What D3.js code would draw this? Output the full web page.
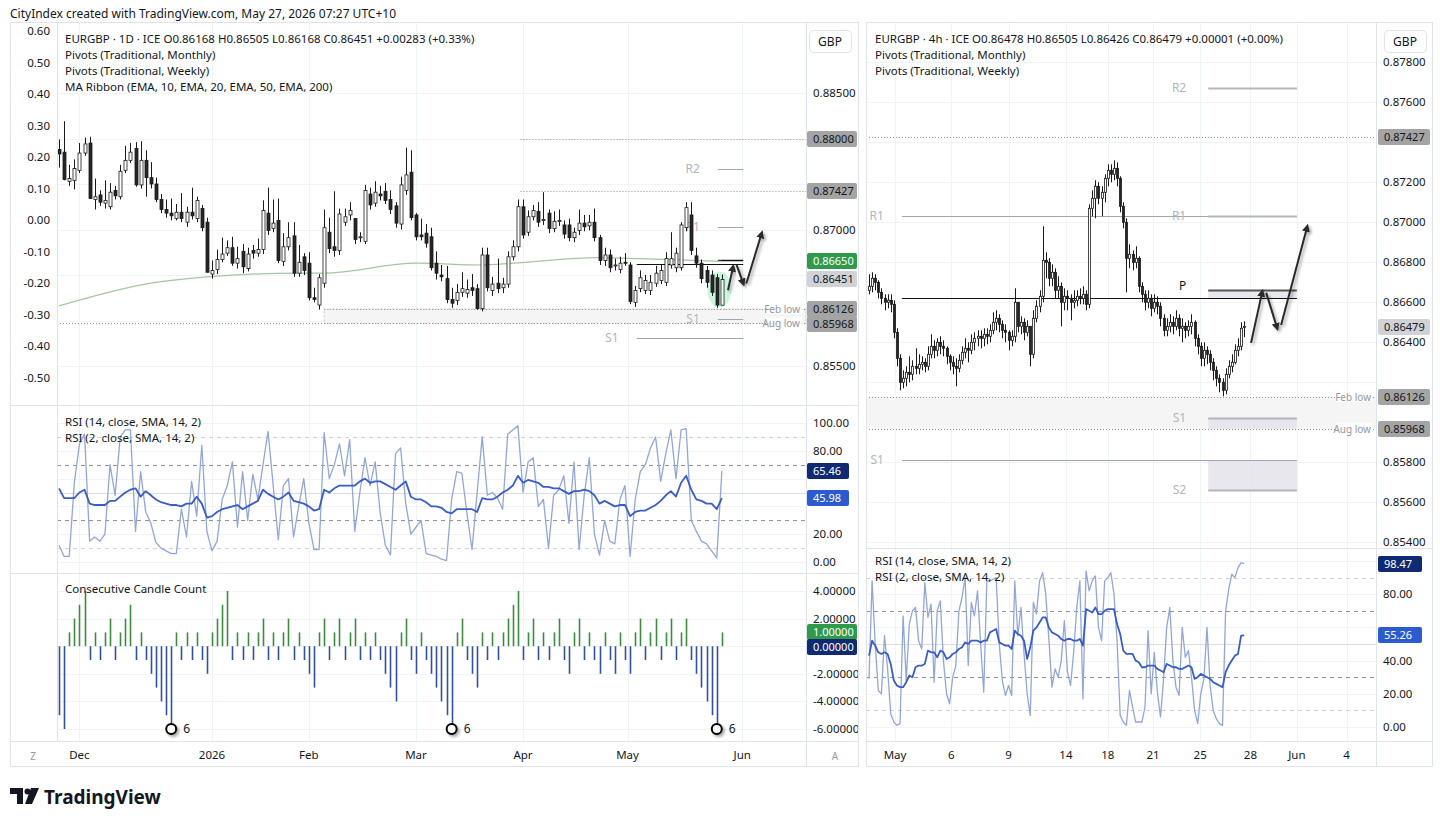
<!DOCTYPE html>
<html>
<head>
<meta charset="utf-8">
<script src="https://cdn.jsdelivr.net/npm/d3@7"></script>
<style>
  body { margin: 0; background: #fff; }
  svg text { font-family: "Noto Sans", "DejaVu Sans", sans-serif; }
</style>
</head>
<body>
<svg id="chart" width="1440" height="824"></svg>
<script>
// ---------- daily EURGBP (left chart) ----------
var dayOpen = [0.8788,0.8785,0.8753,0.8754,0.8765,0.8784,0.8795,0.8733,0.8738,0.8729,0.8725,0.8743,0.8736,0.8765,0.8776,0.8789,0.8749,0.8776,0.8757,0.8750,0.8733,0.8722,0.8718,0.8712,0.8719,0.8708,0.8719,0.8712,0.8723,0.8708,0.8651,0.8656,0.8667,0.8674,0.8680,0.8663,0.8676,0.8657,0.8677,0.8674,0.8678,0.8718,0.8701,0.8710,0.8665,0.8681,0.8693,0.8652,0.8670,0.8663,0.8625,0.8617,0.8641,0.8697,0.8681,0.8677,0.8708,0.8716,0.8712,0.8691,0.8687,0.8739,0.8729,0.8739,0.8742,0.8733,0.8726,0.8706,0.8743,0.8763,0.8716,0.8694,0.8696,0.8692,0.8663,0.8650,0.8646,0.8623,0.8622,0.8631,0.8630,0.8636,0.8635,0.8613,0.8672,0.8633,0.8641,0.8636,0.8640,0.8670,0.8681,0.8725,0.8697,0.8714,0.8720,0.8710,0.8718,0.8701,0.8709,0.8705,0.8705,0.8691,0.8699,0.8707,0.8704,0.8708,0.8691,0.8666,0.8672,0.8660,0.8656,0.8664,0.8661,0.8620,0.8635,0.8633,0.8633,0.8641,0.8644,0.8642,0.8661,0.8658,0.8658,0.8702,0.8716,0.8671,0.8663,0.8655,0.8650,0.8647,0.86168];
var dayHigh = [0.8799,0.8819,0.8771,0.8777,0.8795,0.8801,0.8802,0.8756,0.8743,0.8754,0.8751,0.8748,0.8771,0.8792,0.8795,0.8796,0.8797,0.8787,0.8774,0.8757,0.8739,0.8733,0.8734,0.8728,0.8740,0.8725,0.8746,0.8736,0.8727,0.8713,0.8666,0.8678,0.8691,0.8688,0.8692,0.8681,0.8684,0.8680,0.8683,0.8690,0.8732,0.8746,0.8733,0.8734,0.8696,0.8708,0.8708,0.8683,0.8674,0.8675,0.8636,0.8651,0.8722,0.8713,0.8742,0.8723,0.8723,0.8730,0.8712,0.8697,0.8749,0.8746,0.8753,0.8748,0.8751,0.8743,0.8730,0.8758,0.8790,0.8787,0.8718,0.8712,0.8706,0.8702,0.8676,0.8661,0.8660,0.8636,0.8640,0.8653,0.8645,0.8651,0.8640,0.8680,0.8680,0.8648,0.8668,0.8647,0.8676,0.8688,0.8733,0.8733,0.8721,0.8727,0.8730,0.8741,0.8722,0.8720,0.8722,0.8710,0.8712,0.8702,0.8722,0.8716,0.8716,0.8723,0.8694,0.8680,0.8678,0.8668,0.8670,0.8674,0.8664,0.8638,0.8655,0.8650,0.8650,0.8660,0.8662,0.8675,0.8697,0.8680,0.8708,0.8730,0.8730,0.8680,0.8667,0.8660,0.8655,0.8651,0.86505];
var dayLow = [0.8768,0.8754,0.8748,0.8744,0.8762,0.8781,0.8734,0.8722,0.8726,0.8723,0.8722,0.8733,0.8733,0.8762,0.8773,0.8747,0.8745,0.8736,0.8745,0.8730,0.8718,0.8713,0.8710,0.8710,0.8708,0.8703,0.8711,0.8708,0.8698,0.8653,0.8646,0.8651,0.8664,0.8671,0.8660,0.8657,0.8652,0.8654,0.8668,0.8670,0.8673,0.8694,0.8697,0.8663,0.8660,0.8677,0.8648,0.8648,0.8650,0.8622,0.8620,0.8612,0.8636,0.8674,0.8670,0.8672,0.8704,0.8710,0.8684,0.8686,0.8684,0.8722,0.8725,0.8732,0.8728,0.8717,0.8702,0.8700,0.8738,0.8710,0.8688,0.8688,0.8680,0.8655,0.8645,0.8643,0.8619,0.8614,0.8617,0.8626,0.8625,0.8627,0.8612,0.8610,0.8632,0.8627,0.8630,0.8630,0.8636,0.8666,0.8676,0.8690,0.8693,0.8710,0.8703,0.8705,0.8696,0.8697,0.8704,0.8690,0.8687,0.8686,0.8694,0.8698,0.8699,0.8687,0.8661,0.8660,0.8653,0.8655,0.8652,0.8660,0.8618,0.8615,0.8631,0.8629,0.8628,0.8637,0.8640,0.8638,0.8657,0.8653,0.8655,0.8698,0.8672,0.8658,0.8641,0.8636,0.8627,0.8614,0.86168];
var dayClose = [0.8783,0.8755,0.8756,0.8767,0.8784,0.8794,0.8734,0.8736,0.8730,0.8732,0.8741,0.8737,0.8764,0.8776,0.8785,0.8749,0.8776,0.8757,0.8750,0.8733,0.8722,0.8718,0.8715,0.8719,0.8712,0.8719,0.8715,0.8732,0.8702,0.8653,0.8655,0.8667,0.8673,0.8680,0.8663,0.8668,0.8659,0.8673,0.8674,0.8678,0.8721,0.8699,0.8707,0.8666,0.8681,0.8691,0.8652,0.8664,0.8655,0.8625,0.8623,0.8647,0.8702,0.8679,0.8677,0.8717,0.8714,0.8721,0.8689,0.8692,0.8743,0.8727,0.8741,0.8737,0.8732,0.8722,0.8707,0.8749,0.8760,0.8713,0.8692,0.8692,0.8685,0.8658,0.8652,0.8648,0.8623,0.8619,0.8631,0.8635,0.8634,0.8633,0.8613,0.8672,0.8636,0.8640,0.8635,0.8640,0.8670,0.8681,0.8725,0.8694,0.8714,0.8721,0.8708,0.8711,0.8701,0.8709,0.8710,0.8695,0.8691,0.8697,0.8707,0.8703,0.8708,0.8691,0.8666,0.8672,0.8658,0.8661,0.8663,0.8663,0.8621,0.8633,0.8647,0.8644,0.8642,0.8652,0.8655,0.8668,0.8668,0.8674,0.8705,0.8724,0.8677,0.8663,0.8646,0.8642,0.8631,0.8617,0.86451];

var dayTicks = ["Dec", "2026", "Feb", "Mar", "Apr", "May", "Jun"];
var dayTickBar = [4, 30, 49, 70, 91, 111.5, 134];

var ema200Bar = [0, 18, 29, 47, 52, 70, 83, 89, 106, 114, 130];
var ema200 = [0.8616, 0.8641, 0.8648, 0.8652, 0.8652, 0.8663, 0.8661, 0.8663, 0.8669, 0.8668, 0.8665];

var rsi14Day = [53,46,46,46,50,52,42,41,41,41,44,44,47,50,52,53,47,51,48,45,43,42,41,41,40,42,42,47,42,32,33,36,38,39,40,41,38,40,42,44,52,49,47,45,47,50,44,43,42,40,37,38,52,50,53,55,55,55,55,58,60,57,58,58,56,54,52,55,58,47,45,45,43,40,40,39,36,35,38,38,38,38,36,46,45,45,47,50,52,55,62,57,59,58,57,54,54,53,53,51,49,51,51,52,51,48,42,44,42,40,41,41,33,36,37,37,39,41,44,48,51,47,57,62,52,45,44,42,42,38,45.98];
var rsi2Day = [12,4,4,57,85,92,15,18,15,20,70,48,90,95,95,22,65,36,28,14,10,8,6,6,38,18,58,33,84,22,8,15,45,55,72,25,65,30,63,45,70,94,55,16,55,60,18,40,60,28,9,9,93,60,70,85,62,88,22,50,75,55,72,35,12,5,78,82,42,20,25,30,6,5,4,2,1,45,65,64,35,9,50,90,48,50,46,38,92,95,98,50,72,75,40,45,10,48,52,62,28,72,9,48,75,20,5,30,15,13,45,55,4,45,65,70,82,90,58,78,95,60,95,96,30,22,15,13,8,3,65.46];

var candleCount = [-5,-6,1,2,3,4,-1,1,-1,1,2,-1,1,2,3,-1,1,-1,-2,-3,-4,-5,-6,1,-1,1,-1,1,-1,-2,1,2,3,4,-1,1,-1,1,-1,1,2,-1,1,-1,1,2,-1,1,-1,-2,-3,1,2,-1,1,2,-1,1,2,-1,1,-1,1,-1,-2,-3,-4,1,2,-1,-2,1,-1,-2,-3,-4,-5,-6,1,2,-1,-2,-3,1,-1,1,-1,1,2,3,4,-1,1,2,-1,1,-1,1,2,-1,-2,1,2,-1,1,-1,-2,1,-1,-2,1,-1,-2,1,2,-1,1,2,-1,1,2,-1,1,2,-1,-2,-3,-4,-5,-6,1];
var countMarkBar = [22, 77, 129];

var overlayTicks = [0.6, 0.5, 0.4, 0.3, 0.2, 0.1, 0, -0.1, -0.2, -0.3, -0.4, -0.5];

// ---------- 4h EURGBP (right chart) ----------
var h4FirstOpen = 0.8666;
var h4Close = [0.8668,0.8672,0.8670,0.8665,0.8662,0.8660,0.8661,0.8659,0.8645,0.8632,0.8620,0.8622,0.8625,0.8624,0.8628,0.8627,0.8629,0.8630,0.8628,0.8634,0.8638,0.8636,0.8640,0.8638,0.8637,0.8633,0.8630,0.8628,0.8627,0.8631,0.8635,0.8637,0.8636,0.8640,0.8642,0.8643,0.8642,0.8644,0.8643,0.8646,0.8650,0.8652,0.8649,0.8646,0.8645,0.8641,0.8643,0.8660,0.8648,0.8650,0.8645,0.8648,0.8634,0.8652,0.8658,0.8663,0.8681,0.8680,0.8672,0.8675,0.8666,0.8668,0.8660,0.8663,0.8662,0.8660,0.8661,0.8663,0.8662,0.8664,0.8659,0.8707,0.8712,0.8718,0.8712,0.8715,0.8722,0.8726,0.8724,0.8727,0.8722,0.8708,0.8700,0.8682,0.8684,0.8680,0.8682,0.8668,0.8664,0.8660,0.8662,0.8657,0.8660,0.8658,0.8652,0.8646,0.8648,0.8650,0.8648,0.8652,0.8647,0.8648,0.8646,0.8648,0.8650,0.8642,0.8638,0.8632,0.8636,0.8634,0.8630,0.8626,0.8622,0.8620,0.8616,0.8624,0.8628,0.8630,0.8636,0.8638,0.8647,0.86479];
var h4High = [0.8674,0.8675,0.8674,0.8671,0.8667,0.8664,0.8664,0.8664,0.8661,0.8647,0.8634,0.8626,0.8628,0.8633,0.8631,0.8637,0.8634,0.8633,0.8632,0.8638,0.8644,0.8641,0.8642,0.8643,0.8641,0.8638,0.8634,0.8633,0.8632,0.8634,0.8638,0.8642,0.8640,0.8644,0.8645,0.8646,0.8646,0.8647,0.8647,0.8649,0.8655,0.8656,0.8654,0.8651,0.8649,0.8646,0.8646,0.8667,0.8660,0.8653,0.8652,0.8651,0.8648,0.8656,0.8661,0.8666,0.8698,0.8685,0.8682,0.8679,0.8677,0.8673,0.8670,0.8667,0.8666,0.8664,0.8666,0.8666,0.8667,0.8668,0.8666,0.8709,0.8716,0.8721,0.8720,0.8718,0.8724,0.8729,0.8729,0.8731,0.8730,0.8723,0.8710,0.8702,0.8689,0.8686,0.8688,0.8683,0.8670,0.8666,0.8666,0.8664,0.8664,0.8663,0.8660,0.8654,0.8652,0.8654,0.8653,0.8656,0.8654,0.8652,0.8650,0.8651,0.8654,0.8651,0.8644,0.8640,0.8640,0.8638,0.8636,0.8632,0.8628,0.8624,0.8622,0.8627,0.8631,0.8634,0.8639,0.8642,0.8650,0.86505];
var h4Low = [0.8664,0.8665,0.8666,0.8662,0.8659,0.8656,0.8657,0.8655,0.8642,0.8628,0.8616,0.8617,0.8618,0.8620,0.8621,0.8624,0.8624,0.8626,0.8625,0.8626,0.8632,0.8632,0.8633,0.8634,0.8633,0.8629,0.8626,0.8624,0.8618,0.8625,0.8629,0.8632,0.8630,0.8634,0.8636,0.8638,0.8637,0.8638,0.8639,0.8640,0.8644,0.8646,0.8645,0.8642,0.8640,0.8636,0.8638,0.8640,0.8645,0.8644,0.8641,0.8643,0.8628,0.8632,0.8650,0.8655,0.8660,0.8672,0.8668,0.8668,0.8662,0.8662,0.8648,0.8656,0.8656,0.8651,0.8657,0.8658,0.8659,0.8659,0.8656,0.8657,0.8703,0.8702,0.8709,0.8703,0.8710,0.8718,0.8720,0.8721,0.8718,0.8705,0.8697,0.8665,0.8677,0.8676,0.8677,0.8665,0.8660,0.8656,0.8657,0.8653,0.8655,0.8654,0.8648,0.8643,0.8643,0.8645,0.8644,0.8646,0.8643,0.8640,0.8642,0.8643,0.8644,0.8638,0.8634,0.8628,0.8628,0.8629,0.8626,0.8621,0.8618,0.8615,0.8613,0.8614,0.8622,0.8625,0.8629,0.8633,0.8636,0.86426];

var h4Ticks = ["May", "6", "9", "14", "18", "21", "25", "28", "Jun", "4"];
var h4TickBar = [8.4, 26.5, 45, 63.5, 77, 91.6, 106.8, 123, 138, 154];

var rsi14H4 = [43,52,49,45,44,45,44,38,28,25,24,24,27,31,30,36,37,37,38,46,45,45,42,46,45,41,42,44,45,47,48,51,50,52,52,52,51,52,52,57,58,59,51,50,49,49,47,58,56,55,52,41,48,58,60,63,66,66,60,57,56,55,53,52,53,53,52,52,53,49,71,70,69,72,68,68,70,71,71,71,62,56,46,44,44,44,40,39,36,36,37,37,37,35,34,33,38,37,36,36,35,35,36,37,36,29,30,32,31,30,29,27,26,25,24,33,37,40,43,44,55,55.26];
var rsi2H4 = [29,88,50,22,20,55,35,8,3,1,2,67,28,62,70,72,52,47,87,66,74,27,70,76,40,20,14,30,37,70,78,90,37,75,67,82,50,21,88,88,89,90,50,28,19,25,19,88,55,72,44,20,7,75,68,88,93,80,53,24,35,30,40,64,33,25,45,72,88,17,94,82,88,91,60,52,88,90,93,80,52,7,3,1,22,12,3,3,3,12,58,20,45,21,6,29,60,72,40,24,19,60,42,46,30,10,2,20,29,60,25,10,5,2,1,70,83,92,90,96,99,98.47];

// ---------- levels ----------
var pivotNameM = ["R1", "P", "S1"];
var pivotM = [0.8703, 0.8662, 0.8581];
var pivotNameW = ["R2", "R1", "P", "S1", "S2"];
var pivotW = [0.8767, 0.8703, 0.8666, 0.8602, 0.8566];
var febLow = 0.86126, augLow = 0.85968;
var roundLevels = [0.88, 0.87427];

// ---------- page ----------
var svg = d3.select("#chart");
var ink = "#131722", gridCol = "#f0f3fa", border = "#e0e3eb", pivGray = "#a3a6af";
var tagGray = "#a4a4a4", tagLight = "#d1d2d6", tagGreen = "#2f9a4c", tagNavy = "#0f2a72", tagBlue = "#2c5bd0";
var upCol = "#3d8b40", dnCol = "#32509e";

var defs = svg.append("defs");
var sh = defs.append("filter").attr("id", "shadow").attr("x", "-50%").attr("y", "-50%").attr("width", "200%").attr("height", "200%");
sh.append("feDropShadow").attr("dx", 2).attr("dy", 2).attr("stdDeviation", 1.5).attr("flood-color", "#000").attr("flood-opacity", 0.35);
defs.append("marker").attr("id", "head").attr("viewBox", "0 0 10 10").attr("refX", 6).attr("refY", 5)
  .attr("markerWidth", 4).attr("markerHeight", 4).attr("orient", "auto-start-reverse")
  .append("path").attr("d", "M0,0L10,5L0,10z").attr("fill", "#2a2a2a");

function clip(id, x, y, w, h) {
  defs.append("clipPath").attr("id", id).append("rect").attr("x", x).attr("y", y).attr("width", w).attr("height", h);
  return "url(#" + id + ")";
}
function crisp(v) { return Math.round(v) + 0.5; }
function hline(g, x1, x2, y, stroke, w, dash) {
  return g.append("line").attr("x1", x1).attr("x2", x2).attr("y1", crisp(y)).attr("y2", crisp(y))
    .attr("stroke", stroke).attr("stroke-width", w || 1).attr("stroke-dasharray", dash || null);
}
function vline(g, x, y1, y2, stroke, w) {
  return g.append("line").attr("x1", crisp(x)).attr("x2", crisp(x)).attr("y1", y1).attr("y2", y2)
    .attr("stroke", stroke).attr("stroke-width", w || 1);
}
function label(g, x, y, s, o) {
  o = o || {};
  return g.append("text").attr("x", x).attr("y", y).text(s)
    .attr("font-size", o.size || 11.5).attr("fill", o.fill || ink)
    .attr("text-anchor", o.anchor || "start").attr("font-weight", o.weight || null);
}
// price tags on a scale; pushed apart so neighbouring tags do not cover each other
function tags(g, x, w, list, y) {
  var items = list.map(function (t) { return { y: y(t[0]), s: t[3] || t[0].toFixed(5), fill: t[1], color: t[2] }; })
    .sort(function (a, b) { return a.y - b.y; });
  for (var k = 1; k < items.length; k++) {
    if (items[k].y - items[k - 1].y < 15) items[k].y = items[k - 1].y + 15;
  }
  items.forEach(function (t) {
    g.append("rect").attr("x", x).attr("y", Math.round(t.y) - 8).attr("width", w).attr("height", 16).attr("rx", 2).attr("fill", t.fill);
    label(g, x + 6, Math.round(t.y) + 4, t.s, { fill: t.color, size: 11 });
  });
}
function candles(g, x, y, O, H, L, C, bw) {
  var idx = d3.range(C.length);
  g.selectAll(null).data(idx).join("line")
    .attr("x1", function (i) { return crisp(x(i)); }).attr("x2", function (i) { return crisp(x(i)); })
    .attr("y1", function (i) { return y(Math.max(H[i], O[i], C[i])); })
    .attr("y2", function (i) { return y(Math.min(L[i], O[i], C[i])); })
    .attr("stroke", "#1a1a1a").attr("stroke-width", 1);
  g.selectAll(null).data(idx).join("rect")
    .attr("x", function (i) { return Math.round(x(i)) + 0.5 - bw / 2; }).attr("width", bw)
    .attr("y", function (i) { return y(Math.max(O[i], C[i])); })
    .attr("height", function (i) { return Math.max(1, Math.abs(y(O[i]) - y(C[i]))); })
    .attr("fill", function (i) { return C[i] >= O[i] ? "#ffffff" : "#262626"; })
    .attr("stroke", "#1a1a1a").attr("stroke-width", 0.8);
}
function series(g, x, y, vals, color, w) {
  g.append("path").datum(vals)
    .attr("d", d3.line().x(function (d, i) { return x(i); }).y(function (d) { return y(d); }))
    .attr("fill", "none").attr("stroke", color).attr("stroke-width", w).attr("stroke-linejoin", "round");
}
function rsiGuides(g, x1, x2, y) {
  hline(g, x1, x2, y(90), "#cfd1d6", 1, "4,4");
  hline(g, x1, x2, y(70), "#8f929b", 1, "4,4");
  hline(g, x1, x2, y(50), "#dcdde1", 1);
  hline(g, x1, x2, y(30), "#8f929b", 1, "4,4");
  hline(g, x1, x2, y(10), "#cfd1d6", 1, "4,4");
}
function arrows(g, x, y, segs) {
  segs.forEach(function (s) {
    g.append("line").attr("x1", x(s[0])).attr("y1", y(s[1])).attr("x2", x(s[2])).attr("y2", y(s[3]))
      .attr("stroke", "#2a2a2a").attr("stroke-width", 2).attr("marker-end", "url(#head)")
      .attr("filter", "url(#shadow)");
  });
}
function priceFmt(v) { return v.toFixed(5); }

svg.append("rect").attr("width", 1440).attr("height", 824).attr("fill", "#fff");
label(svg, 10, 18, "CityIndex created with TradingView.com, May 27, 2026 07:27 UTC+10", { size: 12 });

// =============== LEFT CHART (1D) ===============
var gl = svg.append("g");
var LX0 = 10, LX1 = 858, LPL = 57, LPR = 806;
var xL = d3.scaleLinear().domain([-0.4, 146.5]).range([LPL, LPR]);
var yL = d3.scaleLinear().domain([0.855, 0.885]).range([366, 93]);
var yLo = d3.scaleLinear().domain([-0.5, 0.6]).range([377.5, 31]);
var yLr = d3.scaleLinear().domain([0, 100]).range([562, 423]);
var yLc = d3.scaleLinear().domain([-6, 4]).range([729, 591]);
var priceTicksL = d3.range(7).map(function (k) { return 0.855 + k * 0.005; });

// grid
dayTickBar.forEach(function (b) { vline(gl, xL(b), 22, 741, gridCol); });
priceTicksL.forEach(function (p) { hline(gl, LPL, LPR, yL(p), gridCol); });
[0, 20, 40, 60, 80, 100].forEach(function (v) { hline(gl, LPL, LPR, yLr(v), gridCol); });
[4, 2, 0, -2, -4, -6].forEach(function (v) { hline(gl, LPL, LPR, yLc(v), gridCol); });

var mainL = gl.append("g").attr("clip-path", clip("clipLmain", LPL, 22, LPR - LPL, 383));
// Feb/Aug low zone
mainL.append("rect").attr("x", xL(52)).attr("y", yL(febLow)).attr("width", LPR - xL(52))
  .attr("height", yL(augLow) - yL(febLow)).attr("fill", "#f5f5f6").attr("stroke", "#b9bbc1")
  .attr("stroke-width", 0.8).attr("stroke-dasharray", "2,2");
hline(mainL, xL(52), LPR, yL(febLow), "#8f929b", 1, "1,2");
hline(mainL, LPL, LPR, yL(augLow), "#8f929b", 1, "1,2");
roundLevels.forEach(function (p) { hline(mainL, xL(90.5), LPR, yL(p), "#8f929b", 1, "1,2"); });

// pivots
var mStartL = 113.3, wStartL = 129.2, pEndL = 134.2;
[1, 2].forEach(function (k) {
  hline(mainL, xL(mStartL), xL(pEndL), yL(pivotM[k]), pivotNameM[k] === "P" ? "#111" : pivGray, 1);
});
label(mainL, xL(mStartL) - 18, yL(pivotM[2]) + 4, "S1", { fill: "#b2b5be", anchor: "end", size: 12 });
[0, 1, 2, 3].forEach(function (k) {
  hline(mainL, xL(wStartL), xL(pEndL), yL(pivotW[k]), pivotNameW[k] === "P" ? "#111" : pivGray, pivotNameW[k] === "P" ? 1.5 : 1);
  if (pivotNameW[k] !== "P") label(mainL, xL(wStartL) - 18, yL(pivotW[k]) + 4, pivotNameW[k], { fill: "#b2b5be", anchor: "end", size: 12 });
});

// EMA 200 (MA ribbon)
mainL.append("path").datum(ema200Bar.map(function (b, k) { return [b, ema200[k]]; }))
  .attr("d", d3.line().x(function (d) { return xL(d[0]); }).y(function (d) { return yL(d[1]); }).curve(d3.curveMonotoneX))
  .attr("fill", "none").attr("stroke", "#a9c3a4").attr("stroke-width", 1.2);

// highlight of last two candles
mainL.append("ellipse").attr("cx", xL(129.5)).attr("cy", yL(0.8634)).attr("rx", 12).attr("ry", 18)
  .attr("fill", "#9ef0be").attr("opacity", 0.55);
candles(mainL, xL, yL, dayOpen, dayHigh, dayLow, dayClose, 3);
arrows(mainL, xL, yL, [[131.2, 0.86333, 132.2, 0.86589], [132.9, 0.86608, 134.2, 0.86407], [134.8, 0.86407, 137.8, 0.86957]]);

// left overlay scale
overlayTicks.forEach(function (v) { label(gl, 50, yLo(v) + 4, v.toFixed(2), { anchor: "end" }); });

// legend
label(gl, 65, 43, "EURGBP · 1D · ICE  O0.86168  H0.86505  L0.86168  C0.86451  +0.00283 (+0.33%)");
label(gl, 65, 59, "Pivots (Traditional, Monthly)");
label(gl, 65, 75, "Pivots (Traditional, Weekly)");
label(gl, 65, 91, "MA Ribbon (EMA, 10, EMA, 20, EMA, 50, EMA, 200)");

// RSI pane
var rsiL = gl.append("g").attr("clip-path", clip("clipLrsi", LPL, 406, LPR - LPL, 166));
rsiGuides(rsiL, LPL, LPR, yLr);
series(rsiL, xL, yLr, rsi2Day, "#93a6d6", 1.3);
series(rsiL, xL, yLr, rsi14Day, "#3b5cc4", 1.8);
label(gl, 65, 426, "RSI (14, close, SMA, 14, 2)");
label(gl, 65, 442, "RSI (2, close, SMA, 14, 2)");

// consecutive candle count pane
var cntL = gl.append("g");
cntL.selectAll(null).data(candleCount).join("line")
  .attr("x1", function (d, i) { return crisp(xL(i)); }).attr("x2", function (d, i) { return crisp(xL(i)); })
  .attr("y1", yLc(0)).attr("y2", function (d) { return yLc(d); })
  .attr("stroke", function (d) { return d > 0 ? upCol : dnCol; }).attr("stroke-width", 1.6);
countMarkBar.forEach(function (b) {
  cntL.append("circle").attr("cx", xL(b)).attr("cy", yLc(candleCount[b])).attr("r", 5)
    .attr("fill", "#fff").attr("stroke", "#000").attr("stroke-width", 2).attr("filter", "url(#shadow)");
  label(cntL, xL(b) + 12, yLc(candleCount[b]) + 4, String(Math.abs(candleCount[b])), { size: 12 });
});
label(gl, 65, 593, "Consecutive Candle Count");

// right price scale
var tagsL = [[0.88, tagGray, ink], [0.87427, tagGray, ink], [ema200[ema200.length - 1], tagGreen, "#fff"],
  [dayClose[dayClose.length - 1], tagLight, ink], [febLow, tagGray, ink], [augLow, tagGray, ink]];
priceTicksL.forEach(function (p) {
  var hidden = tagsL.some(function (t) { return Math.abs(yL(t[0]) - yL(p)) < 15; });
  if (!hidden) label(gl, 813, yL(p) + 4, priceFmt(p));
});
tags(gl, 807, 50, tagsL, yL);
[[febLow, "Feb low"], [augLow, "Aug low"]].forEach(function (t) {
  gl.append("rect").attr("x", 766).attr("y", yL(t[0]) - 6).attr("width", 36).attr("height", 11).attr("fill", "#fff").attr("opacity", 0.85);
  label(gl, 800, yL(t[0]) + 4, t[1], { anchor: "end", fill: "#9598a1", size: 10 });
});
// RSI and count scales
[100, 80, 20, 0].forEach(function (v) { label(gl, 813, yLr(v) + 4, v.toFixed(2)); });
tags(gl, 807, 42, [[rsi2Day[rsi2Day.length - 1], tagNavy, "#fff", rsi2Day[rsi2Day.length - 1].toFixed(2)],
  [rsi14Day[rsi14Day.length - 1], tagBlue, "#fff", rsi14Day[rsi14Day.length - 1].toFixed(2)]], yLr);
[4, 2, -2, -4, -6].forEach(function (v) { label(gl, 813, yLc(v) + 4, v.toFixed(5)); });
tags(gl, 807, 50, [[candleCount[candleCount.length - 1], tagGreen, "#fff", candleCount[candleCount.length - 1].toFixed(5)],
  [0, tagNavy, "#fff", (0).toFixed(5)]], yLc);

// time axis
dayTicks.forEach(function (s, k) { label(gl, xL(dayTickBar[k]), 759, s, { anchor: "middle" }); });
label(gl, 33, 760, "Z", { anchor: "middle", fill: "#9598a1", size: 10 });
label(gl, 835, 760, "A", { anchor: "middle", fill: "#9598a1", size: 10 });

// GBP box
gl.append("rect").attr("x", 809.5).attr("y", 30.5).attr("width", 42).attr("height", 22).attr("rx", 4).attr("fill", "#fff").attr("stroke", border);
label(gl, 830, 46, "GBP", { anchor: "middle", size: 12 });

// frame
gl.append("rect").attr("x", LX0 + 0.5).attr("y", 22.5).attr("width", LX1 - LX0).attr("height", 744).attr("fill", "none").attr("stroke", border);
vline(gl, LPL, 22, 741, border);
vline(gl, LPR, 22, 766, border);
hline(gl, LX0, LX1, 405, border);
hline(gl, LX0, LX1, 573, border);
hline(gl, LX0, LX1, 741, border);

// =============== RIGHT CHART (4h) ===============
var gr = svg.append("g");
var RX0 = 866, RX1 = 1432, RPL = 866, RPR = 1376;
var xR = d3.scaleLinear().domain([-0.97, 163.5]).range([RPL, RPR]);
var yR = d3.scaleLinear().domain([0.856, 0.878]).range([502.3, 62.3]);
var yRr = d3.scaleLinear().domain([0, 100]).range([727, 561]);
var priceTicksR = d3.range(13).map(function (k) { return 0.854 + k * 0.002; });
var h4Open = h4Close.map(function (c, i) { return i === 0 ? h4FirstOpen : h4Close[i - 1]; });
h4Open[h4Open.length - 1] = 0.86478;

h4TickBar.forEach(function (b) { vline(gr, xR(b), 22, 741, gridCol); });
priceTicksR.forEach(function (p) { hline(gr, RPL, RPR, yR(p), gridCol); });
[0, 20, 40, 60, 80, 100].forEach(function (v) { hline(gr, RPL, RPR, yRr(v), gridCol); });

var mainR = gr.append("g").attr("clip-path", clip("clipRmain", RPL, 22, RPR - RPL, 526));
mainR.append("rect").attr("x", RPL).attr("y", yR(febLow)).attr("width", RPR - RPL)
  .attr("height", yR(augLow) - yR(febLow)).attr("fill", "#f5f5f6");
hline(mainR, RPL, RPR, yR(febLow), "#8f929b", 1, "1,2");
hline(mainR, RPL, RPR, yR(augLow), "#8f929b", 1, "1,2");
hline(mainR, RPL, RPR, yR(roundLevels[1]), "#8f929b", 1, "1,2");

var mStartR = 10.6, wStartR = 109.4, pEndR = 138;
// weekly zones
var zoneTop = [pivotW[2], pivotW[3], pivotM[2]];
var zoneBot = [pivotM[1], augLow, pivotW[4]];
zoneTop.forEach(function (t, k) {
  mainR.append("rect").attr("x", xR(wStartR)).attr("y", yR(t)).attr("width", xR(pEndR) - xR(wStartR))
    .attr("height", yR(zoneBot[k]) - yR(t)).attr("fill", "#e3e3ea").attr("opacity", 0.85);
});
pivotM.forEach(function (v, k) {
  hline(mainR, xR(mStartR), xR(pEndR), yR(v), pivotNameM[k] === "P" ? "#111" : pivGray, 1);
  if (pivotNameM[k] !== "P") label(mainR, xR(mStartR) - 18, yR(v) + 4, pivotNameM[k], { fill: "#b2b5be", anchor: "end", size: 12 });
});
pivotW.forEach(function (v, k) {
  var isP = pivotNameW[k] === "P";
  hline(mainR, xR(wStartR), xR(pEndR), yR(v), isP ? "#555" : "#b4b6bc", 2);
  label(mainR, xR(wStartR) - 22, yR(v) + (isP ? 0 : 4), pivotNameW[k], { fill: isP ? ink : "#b2b5be", anchor: "end", size: 12 });
});
candles(mainR, xR, yR, h4Open, h4High, h4Low, h4Close, 2);
arrows(mainR, xR, yR, [[123.2, 0.86397, 126.8, 0.86652], [128.1, 0.86647, 131.6, 0.86472], [132.9, 0.86487, 141.3, 0.86977]]);

label(gr, 875, 43, "EURGBP · 4h · ICE  O0.86478  H0.86505  L0.86426  C0.86479  +0.00001 (+0.00%)");
label(gr, 875, 59, "Pivots (Traditional, Monthly)");
label(gr, 875, 75, "Pivots (Traditional, Weekly)");

var rsiR = gr.append("g").attr("clip-path", clip("clipRrsi", RPL, 549, RPR - RPL, 191));
rsiGuides(rsiR, RPL, RPR, yRr);
series(rsiR, xR, yRr, rsi2H4, "#93a6d6", 1.3);
series(rsiR, xR, yRr, rsi14H4, "#3b5cc4", 1.8);
label(gr, 875, 565, "RSI (14, close, SMA, 14, 2)");
label(gr, 875, 581, "RSI (2, close, SMA, 14, 2)");

var tagsR = [[roundLevels[1], tagGray, ink], [h4Close[h4Close.length - 1], tagLight, ink], [febLow, tagGray, ink], [augLow, tagGray, ink]];
priceTicksR.forEach(function (p) {
  var y = yR(p);
  if (y < 30 || y > 545) return;
  var hidden = tagsR.some(function (t) { return Math.abs(yR(t[0]) - y) < 15; });
  if (!hidden) label(gr, 1383, y + 4, priceFmt(p));
});
tags(gr, 1378, 52, tagsR, yR);
[[febLow, "Feb low"], [augLow, "Aug low"]].forEach(function (t) {
  gr.append("rect").attr("x", 1336).attr("y", yR(t[0]) - 6).attr("width", 36).attr("height", 11).attr("fill", "#fff").attr("opacity", 0.85);
  label(gr, 1371, yR(t[0]) + 4, t[1], { anchor: "end", fill: "#9598a1", size: 10 });
});
[80, 40, 20, 0].forEach(function (v) { label(gr, 1383, yRr(v) + 4, v.toFixed(2)); });
tags(gr, 1378, 44, [[rsi2H4[rsi2H4.length - 1], tagNavy, "#fff", rsi2H4[rsi2H4.length - 1].toFixed(2)],
  [rsi14H4[rsi14H4.length - 1], tagBlue, "#fff", rsi14H4[rsi14H4.length - 1].toFixed(2)]], yRr);

h4Ticks.forEach(function (s, k) { label(gr, xR(h4TickBar[k]), 759, s, { anchor: "middle" }); });

gr.append("rect").attr("x", 1384.5).attr("y", 30.5).attr("width", 42).attr("height", 22).attr("rx", 4).attr("fill", "#fff").attr("stroke", border);
label(gr, 1405, 46, "GBP", { anchor: "middle", size: 12 });

gr.append("rect").attr("x", RX0 + 0.5).attr("y", 22.5).attr("width", RX1 - RX0).attr("height", 744).attr("fill", "none").attr("stroke", border);
vline(gr, RPR, 22, 766, border);
hline(gr, RX0, RX1, 548, border);
hline(gr, RX0, RX1, 741, border);

// =============== footer logo ===============
var logo = svg.append("g").attr("fill", ink);
logo.append("path").attr("d", "M10,788h13v16h-6v-10h-7z");
logo.append("circle").attr("cx", 27.5).attr("cy", 791.5).attr("r", 3);
logo.append("path").attr("d", "M31,788h8l-7,16h-7z");
label(svg, 44, 804, "TradingView", { size: 19, weight: "bold" });
</script>
</body>
</html>
